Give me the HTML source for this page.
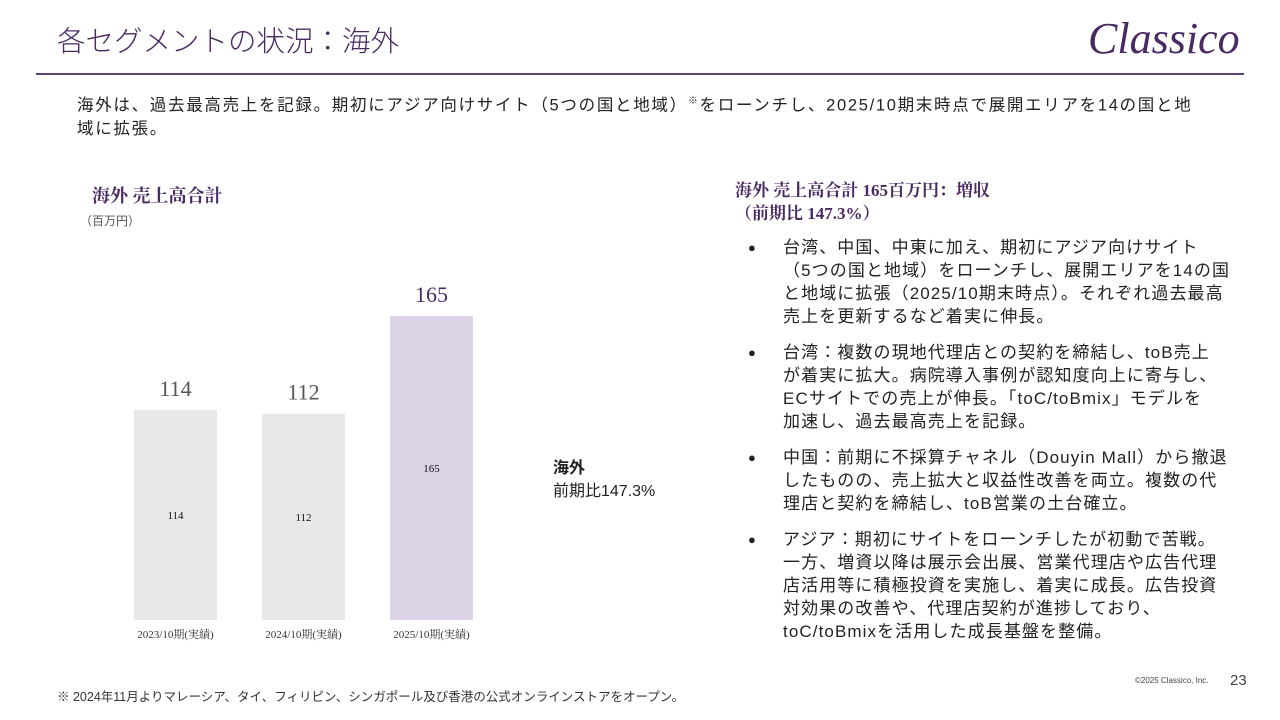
<!DOCTYPE html>
<html><head><meta charset="utf-8">
<style>
body{margin:0;width:1280px;height:720px;background:#fff;position:relative;overflow:hidden;font-family:"Liberation Sans","Noto Sans CJK JP",sans-serif;color:#222}
.abs{position:absolute}
.t{font-family:"Liberation Serif","Noto Serif CJK SC",serif}
ul{margin:0;padding:0;list-style:none}
li{position:relative;padding-left:35px;margin-bottom:13px;font-size:17px;letter-spacing:1.1px;line-height:23px;white-space:nowrap}
li:before{content:"●";position:absolute;left:0;font-size:13px}
</style></head><body>
<div class="abs" style="left:57px;top:19px;font-size:28.5px;color:#4a2a63;font-family:'Noto Sans CJK JP',sans-serif;font-weight:300">各セグメントの状況：海外</div>
<div class="abs t" style="left:1088px;top:13px;font-size:44px;font-style:italic;color:#4a2a63">Classico</div>
<div class="abs" style="left:36px;top:73px;width:1208px;height:2px;background:#5b4370"></div>
<div class="abs" style="left:77px;top:90px;width:1160px;font-size:16.5px;letter-spacing:1.7px;line-height:23px;white-space:nowrap">海外は、過去最高売上を記録。期初にアジア向けサイト（5つの国と地域）<sup style="font-size:10px">※</sup>をローンチし、2025/10期末時点で展開エリアを14の国と地<br>域に拡張。</div>
<div class="abs t" style="left:92px;top:182px;font-size:18px;font-weight:bold;color:#4a2a63">海外 売上高合計</div>
<div class="abs" style="left:80px;top:212px;font-size:12px;color:#555">（百万円）</div>
<svg class="abs" style="left:0;top:0" width="700" height="660" id="chart"></svg>
<div class="abs" style="left:553px;top:457px;font-size:16px;line-height:23px"><b>海外</b><br>前期比147.3%</div>
<div class="abs t" style="left:735px;top:179px;font-size:17px;line-height:23px;font-weight:bold;color:#4a2a63">海外 売上高合計 165百万円：増収<br>（前期比 147.3%）</div>
<ul class="abs" style="left:748px;top:236px;width:500px">
<li>台湾、中国、中東に加え、期初にアジア向けサイト<br>（5つの国と地域）をローンチし、展開エリアを14の国<br>と地域に拡張（2025/10期末時点）。それぞれ過去最高<br>売上を更新するなど着実に伸長。</li>
<li>台湾：複数の現地代理店との契約を締結し、toB売上<br>が着実に拡大。病院導入事例が認知度向上に寄与し、<br>ECサイトでの売上が伸長。「toC/toBmix」モデルを<br>加速し、過去最高売上を記録。</li>
<li>中国：前期に不採算チャネル（Douyin Mall）から撤退<br>したものの、売上拡大と収益性改善を両立。複数の代<br>理店と契約を締結し、toB営業の土台確立。</li>
<li>アジア：期初にサイトをローンチしたが初動で苦戦。<br>一方、増資以降は展示会出展、営業代理店や広告代理<br>店活用等に積極投資を実施し、着実に成長。広告投資<br>対効果の改善や、代理店契約が進捗しており、<br>toC/toBmixを活用した成長基盤を整備。</li>
</ul>
<div class="abs" style="left:1135px;top:676px;font-size:8px;color:#444">©2025 Classico, Inc.</div>
<div class="abs" style="left:1230px;top:672px;font-size:15px;color:#444">23</div>
<div class="abs" style="left:57px;top:686px;font-size:12.5px;color:#333">※ 2024年11月よりマレーシア、タイ、フィリピン、シンガポール及び香港の公式オンラインストアをオープン。</div>
<script>
const categories=["2023/10期(実績)","2024/10期(実績)","2025/10期(実績)"];
const values=[114,112,165];
const colors=["#e8e8e8","#e8e8e8","#dcd3e6"];
const svg=document.getElementById('chart');
const NS="http://www.w3.org/2000/svg";
const base=620,scale=304/165,x0=134,step=128,bw=83;
const y=v=>base-v*scale;
values.forEach((v,i)=>{
 const x=x0+i*step;
 const r=document.createElementNS(NS,'rect');
 r.setAttribute('x',x);r.setAttribute('y',y(v));r.setAttribute('width',bw);r.setAttribute('height',v*scale);r.setAttribute('fill',colors[i]);
 
 
 svg.appendChild(r);
 const add=(txt,ty,size,col,name)=>{const t=document.createElementNS(NS,'text');t.setAttribute('x',x+bw/2);t.setAttribute('y',ty);t.setAttribute('text-anchor','middle');t.setAttribute('font-size',size);t.setAttribute('fill',col);t.setAttribute('font-family','"Liberation Serif","Noto Serif CJK SC",serif');t.textContent=txt;
  
  
  svg.appendChild(t);};
 add(v,y(v)-14,22,i==2?'#4a2a63':'#555','bar-top-label');
 add(v,y(v/2)+4,11,'#111','bar-inner-label');
 add(categories[i],base+18,11,'#333','x-axis-label');
});
</script>
</body></html>
